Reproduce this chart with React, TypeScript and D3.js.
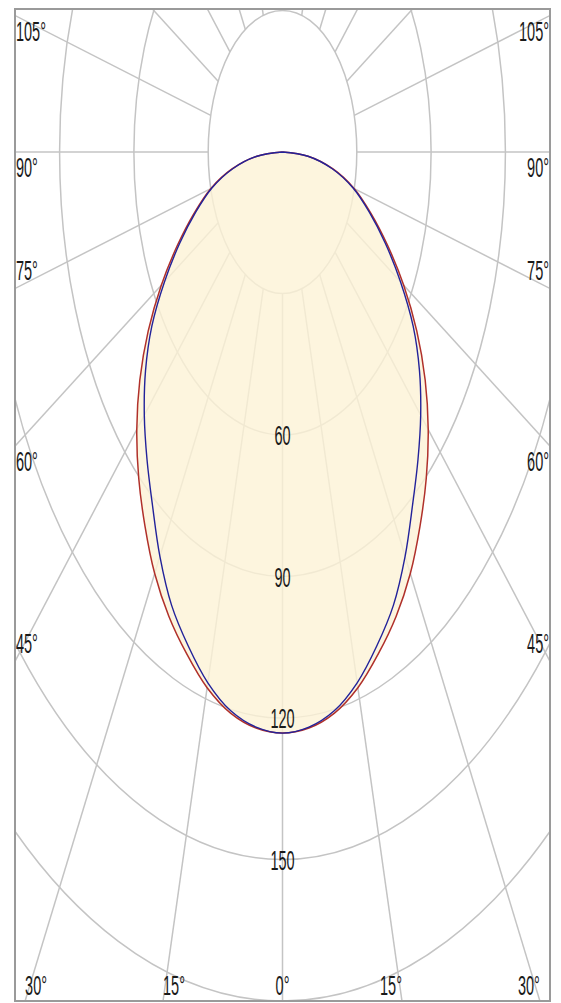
import React from "react";
import * as d3 from "d3";

// luminous intensity (cd/klm), gamma 0..90 in 5° steps
const gammaAngles = [0, 5, 10, 15, 20, 25, 30, 35, 40, 45, 50, 55, 60, 65, 70, 75, 80, 85, 90];
const planeC0C180 = [123.2, 122.6, 120.8, 117.6, 113.2, 108.6, 103.2, 96.8, 90.3, 83.2, 75.2, 66.2, 56.5, 46.8, 38, 30, 20.7, 10.4, 0];
const planeC90C270 = [123.2, 122.4, 120.3, 116.5, 111.4, 106, 99, 91.5, 85.1, 78.9, 72.2, 64.4, 55, 45.8, 37.3, 29.5, 20.4, 10.3, 0];

const ringValues = [30, 60, 90, 120, 150, 180, 210];
const ringLabels = [60, 90, 120, 150];
const spokeAngles = [0, 15, 30, 45, 60, 75, 90, 105, 120, 135, 150, 165, 180];
const sideLabels = [105, 90, 75, 60, 45];
const sideBelow = [true, true, false, true, false];
const bottomLabels = [30, 15, 0];

const W = 561;
const H = 1003;
const frame = { left: 15, right: 550, top: 9, bottom: 1001 };

const FONT = "'Liberation Sans', Arial, sans-serif";
const STRETCH = 1.95;

export default function App() {
  const xScale = d3.scaleLinear().domain([-108, 108]).range([frame.left, frame.right]);
  const yScale = d3.scaleLinear().domain([0, 180]).range([152, 1001]);
  const cx = xScale(0);
  const cy = yScale(0);
  const rad = (a: number) => (a * Math.PI) / 180;

  const pt = (r: number, a: number, side: number): [number, number] => [
    xScale(side * r * Math.sin(rad(a))),
    yScale(r * Math.cos(rad(a))),
  ];

  const curvePoints = (vals: number[]) => {
    const left = gammaAngles.map((a, i) => pt(vals[i], a, -1)).reverse();
    const right = gammaAngles.map((a, i) => pt(vals[i], a, 1)).slice(1);
    return left.concat(right);
  };

  const line = d3.line<[number, number]>().curve(d3.curveCatmullRom.alpha(0.5));
  const redPath = line(curvePoints(planeC0C180)) || "";
  const bluePath = line(curvePoints(planeC90C270)) || "";

  const inner = ringValues[0];
  const spokes: { a: number; side: number }[] = [];
  spokeAngles.forEach((a) => {
    spokes.push({ a, side: 1 });
    if (a !== 0 && a !== 180) spokes.push({ a, side: -1 });
  });

  const halfU = xScale.invert(frame.right);
  const sideY = (a: number) => yScale((halfU / Math.sin(rad(a))) * Math.cos(rad(a)));
  const bottomU = yScale.invert(frame.bottom);
  const bottomX = (a: number, side: number) => xScale(side * bottomU * Math.tan(rad(a)));

  const label = (key: string, x: number, y: number, anchor: string, text: string) => (
    <text
      key={key}
      transform={`translate(${x},${y}) scale(1,${STRETCH})`}
      textAnchor={anchor}
      fontFamily={FONT}
      fontSize={14.5}
      fill="#1a1a1a"
    >
      {text}
    </text>
  );

  return (
    <svg
      width={W}
      height={H}
      style={{ position: "absolute", left: 0, top: 0, background: "#fff" }}
    >
      <defs>
        <clipPath id="plot">
          <rect x={frame.left} y={frame.top} width={frame.right - frame.left} height={frame.bottom - frame.top} />
        </clipPath>
      </defs>

      <g clipPath="url(#plot)" fill="none" stroke="#c4c4c4" strokeWidth={1.5}>
        {ringValues.map((r) => (
          <ellipse key={r} cx={cx} cy={cy} rx={xScale(r) - cx} ry={yScale(r) - cy} />
        ))}
        {spokes.map((s) => {
          const [x1, y1] = pt(inner, s.a, s.side);
          const [x2, y2] = pt(400, s.a, s.side);
          return <line key={`${s.a}_${s.side}`} x1={x1} y1={y1} x2={x2} y2={y2} />;
        })}
      </g>

      <path d={redPath} fill="#fcf3d6" fillOpacity={0.8} stroke="none" />

      {ringLabels.map((r) => label(`r${r}`, cx, yScale(r) + 10, "middle", String(r)))}

      <path d={redPath} fill="none" stroke="#b0302a" strokeWidth={1.5} />
      <path d={bluePath} fill="none" stroke="#22229a" strokeWidth={1.4} />

      {sideLabels.map((a, i) => {
        const yl = sideY(a);
        const y = sideBelow[i] ? yl + 25 : yl - 8;
        return (
          <g key={`s${a}`}>
            {label(`sl${a}`, frame.left + 1, y, "start", `${a}°`)}
            {label(`sr${a}`, frame.right - 1, y, "end", `${a}°`)}
          </g>
        );
      })}

      {bottomLabels.map((a) =>
        a === 0 ? (
          label("b0", cx, frame.bottom - 6, "middle", "0°")
        ) : (
          <g key={`b${a}`}>
            {label(`bl${a}`, bottomX(a, -1), frame.bottom - 6, "start", `${a}°`)}
            {label(`br${a}`, bottomX(a, 1), frame.bottom - 6, "end", `${a}°`)}
          </g>
        )
      )}

      <rect
        x={frame.left}
        y={frame.top}
        width={frame.right - frame.left}
        height={frame.bottom - frame.top}
        fill="none"
        stroke="#9a9a9a"
        strokeWidth={2}
      />
    </svg>
  );
}
